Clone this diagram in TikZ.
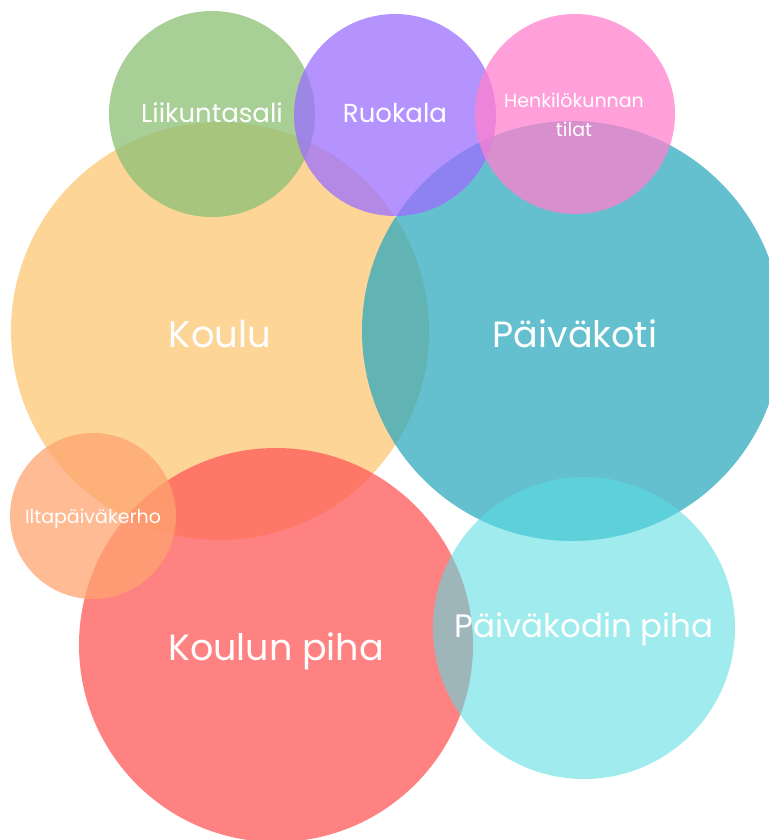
\documentclass[tikz,border=0pt]{standalone}
\usepackage{fontspec}
\setmainfont{Poppins}
\usepackage{xcolor}
\usetikzlibrary{positioning}
\definecolor{kouluorange}{HTML}{FCC774}
\definecolor{paivateal}{HTML}{30AABF}
\definecolor{saligreen}{HTML}{8BC073}
\definecolor{ruokapurple}{HTML}{9C6FFF}
\definecolor{henkipink}{HTML}{FF80CE}
\definecolor{iltapeach}{HTML}{FFA470}
\definecolor{pihared}{HTML}{FF5858}
\definecolor{pihacyan}{HTML}{5ADCE2}
\tikzset{
  areacircle/.style={circle,draw=none,inner sep=0pt,fill opacity=0.75},
  arealabel/.style={text=white,anchor=base,inner sep=0pt},
  biglabel/.style={arealabel,font=\fontsize{36.5}{42}\selectfont},
  midlabel/.style={arealabel,font=\fontsize{26}{30}\selectfont},
  smalllabel/.style={arealabel,font=\fontsize{19}{23}\selectfont}
}

\begin{document}
\begin{tikzpicture}[x=1pt,y=-1pt]
  \useasboundingbox (0,0) rectangle (768,840);
  % isot alueet
  \node[areacircle,fill=kouluorange,minimum size=418pt] (koulu) at (220,331) {};
  \node[areacircle,fill=paivateal,minimum size=420pt] (paivakoti) at (572,331) {};
  % pienet tilat ylhaalla
  \node[areacircle,fill=saligreen,minimum size=206pt] (sali) at (212,114) {};
  \node[areacircle,fill=ruokapurple,minimum size=202pt] (ruokala) at (395,115) {};
  \node[areacircle,fill=henkipink,minimum size=200pt] (henki) at (575,114) {};
  % alaosa
  \node[areacircle,fill=pihared,minimum size=394pt] (koulupiha) at (276,645) {};
  \node[areacircle,fill=iltapeach,minimum size=166pt] (ilta) at (93,516) {};
  \node[areacircle,fill=pihacyan,fill opacity=0.58,minimum size=302pt] (paivapiha) at (584,628) {};

  % tekstit
  \node[biglabel,font=\fontsize{37}{42}\selectfont] (kouluteksti) at (220,347) {Koulu};
  \node[biglabel] (paivateksti) at (575,347) {Päiväkoti};
  \node[midlabel] (saliteksti) at (212,123) {Liikuntasali};
  \node[midlabel] (ruokateksti) at (395,123) {Ruokala};
  \node[smalllabel] (henkiteksti) at (574,108) {Henkilökunnan};
  \node[smalllabel] (tilateksti) at (574,136) {tilat};
  \node[smalllabel] (iltateksti) at (93,523) {Iltapäiväkerho};
  \node[biglabel] (kpihateksti) at (276,660) {Koulun piha};
  \node[biglabel,font=\fontsize{32.5}{38}\selectfont] (ppihateksti) at (584,637) {Päiväkodin piha};
\end{tikzpicture}
\end{document}
